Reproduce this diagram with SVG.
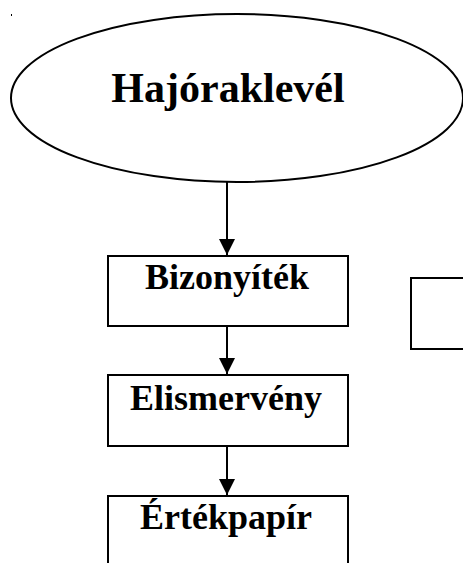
<svg xmlns="http://www.w3.org/2000/svg" width="463" height="563" viewBox="0 0 463 563">
<defs>
<style>
.shape{fill:#fff;stroke:#000;stroke-width:2}
.lbl{font-family:"Liberation Serif","Times New Roman",serif;font-weight:bold;fill:#000;text-anchor:middle}
.conn{stroke:#000;stroke-width:2;fill:none}
</style>
<marker id="arr" markerWidth="16" markerHeight="16" refX="16" refY="8" orient="auto" markerUnits="userSpaceOnUse">
<path d="M0,0 L16,8 L0,16 Z" fill="#000"/>
</marker>
</defs>
<rect x="0" y="0" width="463" height="563" fill="#fff"/>
<rect x="11" y="14" width="1" height="2" fill="#000"/>
<g id="connectors">
<line class="conn" x1="227" y1="182" x2="227" y2="255" marker-end="url(#arr)"/>
<line class="conn" x1="227" y1="326" x2="227" y2="374" marker-end="url(#arr)"/>
<line class="conn" x1="227" y1="447" x2="227" y2="495" marker-end="url(#arr)"/>
</g>
<g id="hajoraklevel">
<ellipse class="shape" cx="237" cy="98" rx="226" ry="84" stroke-width="1.6"/>
<text class="lbl" x="228" y="102" font-size="42">Hajóraklevél</text>
</g>
<g id="bizonyitek">
<rect class="shape" x="108" y="256" width="240" height="70"/>
<text class="lbl" x="227" y="289" font-size="36">Bizonyíték</text>
</g>
<g id="side-box">
<rect class="shape" x="411" y="278" width="60" height="71"/>
</g>
<g id="elismerveny">
<rect class="shape" x="108" y="375" width="240" height="71"/>
<text class="lbl" x="226" y="410" font-size="36">Elismervény</text>
</g>
<g id="ertekpapir">
<rect class="shape" x="108" y="496" width="240" height="80"/>
<text class="lbl" x="226" y="529" font-size="36">Értékpapír</text>
</g>
</svg>
